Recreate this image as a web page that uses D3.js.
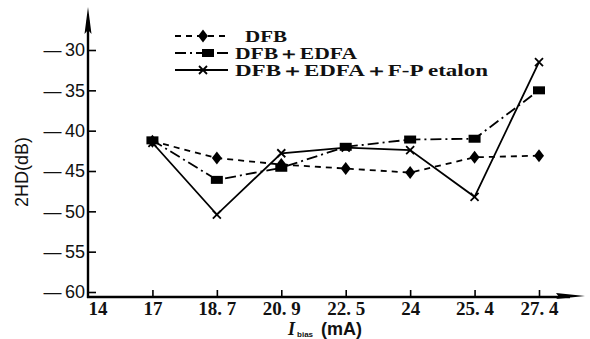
<!DOCTYPE html>
<html>
<head>
<meta charset="utf-8">
<script src="https://cdn.jsdelivr.net/npm/d3@7"></script>
<style>
  html, body { margin: 0; padding: 0; background: #fff; }
  svg { display: block; }
</style>
</head>
<body>
<div id="chart"></div>
<script>
// Data
const categories = ['14', '17', '18.7', '20.9', '22.5', '24', '25.4', '27.4'];
const tickLabels = ['14', '17', '18. 7', '20. 9', '22. 5', '24', '25. 4', '27. 4'];
const currents = ['17', '18.7', '20.9', '22.5', '24', '25.4', '27.4'];
const dfb = [-41.3, -43.4, -44.2, -44.7, -45.2, -43.3, -43.1];
const dfbEdfa = [-41.2, -46.1, -44.6, -42.0, -41.1, -41.0, -35.0];
const dfbEdfaFp = [-41.5, -50.4, -42.8, -42.1, -42.4, -48.2, -31.5];
const yTicks = [-30, -35, -40, -45, -50, -55, -60];
const seriesNames = ['DFB', 'DFB\uFF0BEDFA', 'DFB\uFF0BEDFA\uFF0BF-P etalon'];

const W = 590, H = 339;
const axisX = 88, axisY = 297;

const svg = d3.select('#chart').append('svg')
  .attr('width', W).attr('height', H);

const x = d3.scalePoint().domain(categories).range([axisX, 539]);
const y = d3.scaleLinear().domain([-60, -30]).range([292, 50]);

// styles per series
const styles = [
  { dash: '6,5', marker: 'diamond' },
  { dash: '11,4,2,4', marker: 'square' },
  { dash: null, marker: 'times' }
];
const seriesVals = [dfb, dfbEdfa, dfbEdfaFp];

function drawMarker(g, kind, cx, cy) {
  if (kind === 'diamond') {
    g.append('path')
      .attr('d', `M0,-6.5L5,0L0,6.5L-5,0Z`)
      .attr('transform', `translate(${cx},${cy})`)
      .attr('fill', '#000');
  } else if (kind === 'square') {
    g.append('rect')
      .attr('x', cx - 6).attr('y', cy - 4)
      .attr('width', 12).attr('height', 8)
      .attr('fill', '#000');
  } else {
    const s = 4;
    g.append('path')
      .attr('d', `M${cx - s},${cy - s}L${cx + s},${cy + s}M${cx - s},${cy + s}L${cx + s},${cy - s}`)
      .attr('stroke', '#000').attr('stroke-width', 1.8).attr('fill', 'none');
  }
}

// axes
const xAxis = svg.append('g')
  .attr('transform', `translate(0,${axisY})`)
  .call(d3.axisBottom(x).tickSize(-7).tickPadding(5)
    .tickFormat((d, i) => tickLabels[i]));
xAxis.select('.domain').remove();
xAxis.selectAll('line').attr('stroke', '#000').attr('stroke-width', 1.6);
xAxis.selectAll('text')
  .attr('font-family', '"Liberation Serif", serif')
  .attr('font-weight', 'bold')
  .attr('font-size', 19)
  .attr('fill', '#111');
xAxis.selectAll('.tick').filter(d => d === '14').select('line').remove();
xAxis.selectAll('.tick').filter(d => d === '14').select('text')
  .attr('text-anchor', 'start');

const yAxis = svg.append('g')
  .attr('transform', `translate(${axisX},0)`)
  .call(d3.axisLeft(y).tickValues(yTicks).tickSize(-8).tickPadding(3)
    .tickFormat(d => '\u2014\u2009' + Math.abs(d)));
yAxis.select('.domain').remove();
yAxis.selectAll('line').attr('stroke', '#000').attr('stroke-width', 1.6);
yAxis.selectAll('text')
  .attr('font-family', '"Liberation Sans", Arial, sans-serif')
  .attr('font-size', 18)
  .attr('fill', '#111');

// axis lines with arrows
svg.append('line')
  .attr('x1', axisX).attr('y1', axisY + 1).attr('x2', axisX).attr('y2', 20)
  .attr('stroke', '#000').attr('stroke-width', 2.4);
svg.append('path')
  .attr('d', `M${axisX},7L${axisX + 3.5},34L${axisX},30L${axisX - 3.5},34Z`)
  .attr('fill', '#000');
svg.append('line')
  .attr('x1', axisX - 1).attr('y1', axisY).attr('x2', 570).attr('y2', axisY)
  .attr('stroke', '#000').attr('stroke-width', 2.4);
svg.append('path')
  .attr('d', `M585,${axisY - 1}L556,${axisY - 4}L559,${axisY}L556,${axisY + 2}Z`)
  .attr('fill', '#000');

// axis titles
svg.append('text')
  .attr('transform', 'translate(28,172) rotate(-90)')
  .attr('text-anchor', 'middle')
  .attr('font-family', '"Liberation Sans", Arial, sans-serif')
  .attr('font-size', 18)
  .attr('fill', '#111')
  .text('2HD(dB)');

const xt = svg.append('text')
  .attr('x', 288).attr('y', 335)
  .attr('fill', '#111');
xt.append('tspan')
  .attr('font-family', '"Liberation Serif", serif')
  .attr('font-style', 'italic').attr('font-weight', 'bold')
  .attr('font-size', 18).text('I');
xt.append('tspan')
  .attr('font-family', '"Liberation Sans", Arial, sans-serif')
  .attr('font-weight', 'bold')
  .attr('font-size', 8).attr('dx', 2).attr('dy', 2).text('bias');
xt.append('tspan')
  .attr('font-family', '"Liberation Sans", Arial, sans-serif')
  .attr('font-weight', 'bold')
  .attr('font-size', 18).attr('dx', 8).attr('dy', -2).text('(mA)');

// series
const line = d3.line()
  .x((d, i) => x(currents[i]))
  .y(d => y(d));

[2, 1, 0].forEach(k => {
  const g = svg.append('g');
  g.append('path')
    .datum(seriesVals[k])
    .attr('d', line)
    .attr('fill', 'none')
    .attr('stroke', '#000')
    .attr('stroke-width', 1.8)
    .attr('stroke-dasharray', styles[k].dash);
  seriesVals[k].forEach((v, i) => drawMarker(g, styles[k].marker, x(currents[i]), y(v)));
});

// legend
const legendRows = [
  { y: 36, tx: 245, len: 42, mx: 203 },
  { y: 53, tx: 235, len: 122, mx: 208 },
  { y: 70, tx: 235, len: 253, mx: 203 }
];
const legend = svg.append('g');
legendRows.forEach((r, k) => {
  legend.append('line')
    .attr('x1', 175).attr('x2', 228).attr('y1', r.y).attr('y2', r.y)
    .attr('stroke', '#000').attr('stroke-width', 1.8)
    .attr('stroke-dasharray', styles[k].dash);
  drawMarker(legend, styles[k].marker, r.mx, r.y);
  legend.append('text')
    .attr('x', r.tx).attr('y', r.y + 5.5)
    .attr('font-family', '"Liberation Serif", serif')
    .attr('font-weight', 'bold')
    .attr('font-size', 16)
    .attr('fill', '#111')
    .attr('textLength', r.len)
    .attr('lengthAdjust', 'spacingAndGlyphs')
    .text(seriesNames[k]);
});
</script>
</body>
</html>
